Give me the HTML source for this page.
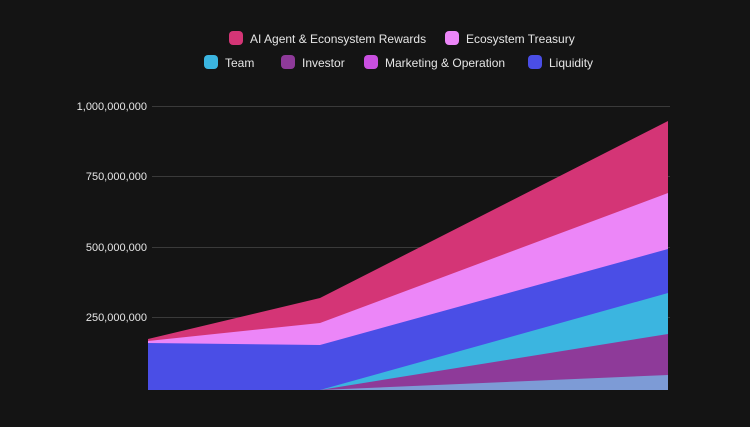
<!DOCTYPE html>
<html><head><style>
body{margin:0;background:#141414;width:750px;height:422px;overflow:hidden;font-family:"Liberation Sans",sans-serif;}
</style></head><body>
<svg width="750" height="422" xmlns="http://www.w3.org/2000/svg">
<rect width="750" height="422" fill="#141414"/>
<g stroke="#3a3a3a" stroke-width="1">
<line x1="152" y1="106.5" x2="670" y2="106.5"/>
<line x1="152" y1="176.5" x2="670" y2="176.5"/>
<line x1="152" y1="247.5" x2="670" y2="247.5"/>
<line x1="152" y1="317.5" x2="670" y2="317.5"/>
</g>
<g fill="#e6e6e6" font-size="11" text-anchor="end">
<text x="147" y="110">1,000,000,000</text>
<text x="147" y="180">750,000,000</text>
<text x="147" y="251">500,000,000</text>
<text x="147" y="321">250,000,000</text>
</g>
<polygon points="148,339 320,298 668,121 668,390 148,390" fill="#d43576"/>
<polygon points="148,341 320,323 668,193 668,390 148,390" fill="#ec86f8"/>
<polygon points="148,343 320,345 668,249 668,390 148,390" fill="#4a4ee6"/>
<polygon points="320,390 668,293 668,390" fill="#3bb5e0"/>
<polygon points="320,390 668,334 668,390" fill="#8e3a99"/>
<polygon points="320,390 668,375 668,390" fill="#7d9bd6"/>
<g font-size="12" fill="#e6e6e6">
<rect x="229" y="31" width="14" height="14" rx="4" fill="#d43576"/><text x="250" y="43">AI Agent &amp; Econsystem Rewards</text>
<rect x="445" y="31" width="14" height="14" rx="4" fill="#ec86f8"/><text x="466" y="43">Ecosystem Treasury</text>
<rect x="204" y="55" width="14" height="14" rx="4" fill="#3bb5e0"/><text x="225" y="67">Team</text>
<rect x="281" y="55" width="14" height="14" rx="4" fill="#8e3a99"/><text x="302" y="67">Investor</text>
<rect x="364" y="55" width="14" height="14" rx="4" fill="#c94fe0"/><text x="385" y="67">Marketing &amp; Operation</text>
<rect x="528" y="55" width="14" height="14" rx="4" fill="#4a4ee6"/><text x="549" y="67">Liquidity</text>
</g>
</svg>
</body></html>
